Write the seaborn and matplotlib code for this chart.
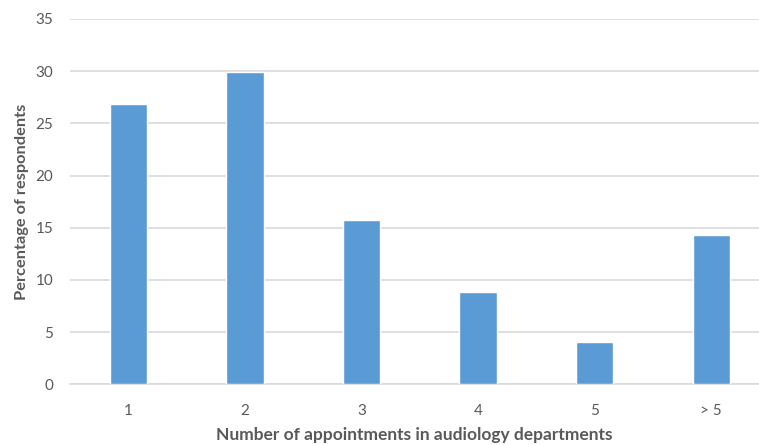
import matplotlib
matplotlib.use("Agg")
import matplotlib.pyplot as plt
import seaborn as sns
import pandas as pd

# Survey results: share of respondents by number of audiology appointments
categories = ["1", "2", "3", "4", "5", "> 5"]
percentages = [26.9, 29.9, 15.7, 8.8, 4.1, 14.3]
y_ticks = [0, 5, 10, 15, 20, 25, 30, 35]

df = pd.DataFrame({"appointments": categories, "percent": percentages})

sns.set_theme(style="white")
plt.rcParams["font.family"] = ["Lato", "DejaVu Sans"]

W, H = 759, 445
fig = plt.figure(figsize=(W / 100, H / 100), dpi=100)
left, right = 70, 759
y0, y35 = 384.3, 19
ax = fig.add_axes([left / W, (H - y0) / H, (right - left) / W, (y0 - y35) / H])

sns.barplot(data=df, x="appointments", y="percent", color="#5b9bd5",
            width=0.32, saturation=1, ax=ax, zorder=3)

step = 116.6
ax.set_xlim(-0.5, -0.5 + (right - left) / step)
ax.set_ylim(0, 35)
ax.set_yticks(y_ticks)
ax.grid(axis="y", color="#d9d9d9", linewidth=1.2, zorder=0)
for s in ["top", "right", "left"]:
    ax.spines[s].set_visible(False)
ax.spines["bottom"].set_color("#d9d9d9")
ax.spines["bottom"].set_linewidth(1.2)

ax.tick_params(axis="both", length=0, labelsize=11, labelcolor="#595959")
ax.tick_params(axis="x", pad=14)
ax.tick_params(axis="y", pad=12)

ax.set_xlabel("Number of appointments in audiology departments",
              fontsize=12.5, fontweight="bold", color="#595959", labelpad=7)
ax.set_ylabel("Percentage of respondents",
              fontsize=11.8, fontweight="bold", color="#595959", labelpad=5)

fig.savefig("out.png", dpi=100)
